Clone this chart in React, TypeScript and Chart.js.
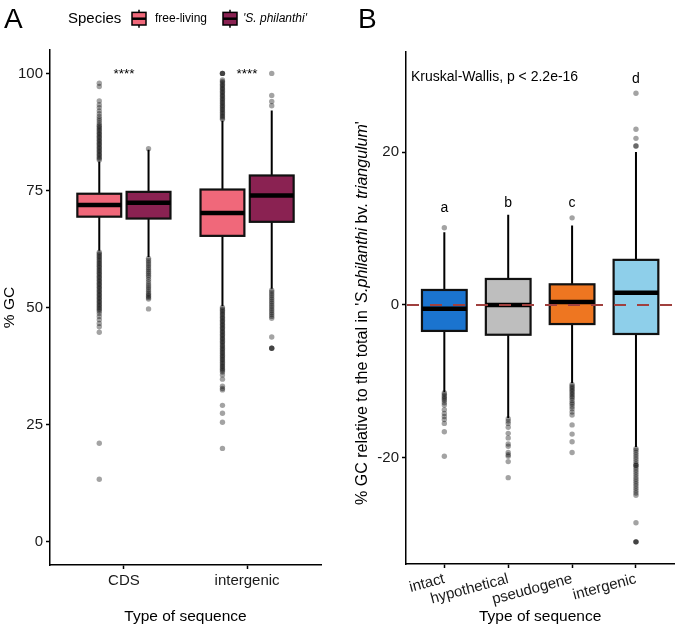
import React, { useEffect, useRef } from 'react';
import { Chart, registerables } from 'chart.js';
Chart.register(...registerables);

const FONT = '"Liberation Sans", Arial, Helvetica, sans-serif';

// ---------------- Panel A data ----------------
const seqTypesA = ['CDS', 'intergenic'];
const speciesA = ['free-living', "'S. philanthi'"];
const colorsA = ['#F0687A', '#8A2252'];
const yTicksA = [0, 25, 50, 75, 100];
const signifA = ['****', '****'];
// [lower whisker, Q1, median, Q3, upper whisker] per sequence type
const freeLivingStats = [
  [62.1, 69.4, 71.9, 74.3, 81.2],
  [50.3, 65.3, 70.2, 75.2, 89.9],
];
const philanthiStats = [
  [60.8, 69.0, 72.4, 74.7, 83.7],
  [54.0, 68.3, 73.9, 78.2, 92.1],
];
const freeLivingCdsOutliers = [
  81.5, 81.8, 82.1, 82.4, 82.7, 83.0, 83.3, 83.6, 83.9, 84.2, 84.5, 84.8, 85.1, 85.4, 85.7, 86.0,
  86.3, 86.6, 86.9, 87.2, 87.5, 87.8, 88.1, 88.4, 88.7, 89.0, 89.4, 89.9, 90.3, 90.8, 91.4, 92.0,
  92.7, 93.3, 94.1, 97.2, 97.9,
  61.8, 61.5, 61.2, 60.9, 60.6, 60.3, 60.0, 59.7, 59.4, 59.1, 58.8, 58.5, 58.2, 57.9, 57.6, 57.3,
  57.0, 56.7, 56.4, 56.1, 55.8, 55.5, 55.2, 54.9, 54.6, 54.3, 54.0, 53.7, 53.4, 53.1, 52.8, 52.5,
  52.2, 51.9, 51.6, 51.3, 51.0, 50.7, 50.4, 50.1, 49.8, 49.5, 49.2, 48.7, 48.1, 47.4, 46.6, 45.9,
  44.7, 21.0, 13.3,
];
const philanthiCdsOutliers = [
  83.9,
  60.5, 60.1, 59.7, 59.3, 58.9, 58.5, 58.1, 57.7, 57.3, 56.9, 56.5, 56.0, 55.5, 55.0, 54.6, 54.2,
  53.8, 53.4, 53.0, 52.7, 52.4, 52.1, 51.8, 49.7,
];
const freeLivingIntergenicOutliers = [
  90.2, 90.5, 90.8, 91.1, 91.4, 91.7, 92.0, 92.3, 92.6, 92.9, 93.2, 93.5, 93.8, 94.1, 94.4, 94.7,
  95.0, 95.3, 95.6, 95.9, 96.2, 96.5, 96.8, 97.1, 97.4, 97.7, 98.0, 98.3, 98.6, 100.0, 100.0, 100.0,
  50.0, 49.7, 49.4, 49.1, 48.8, 48.5, 48.2, 47.9, 47.6, 47.3, 47.0, 46.7, 46.4, 46.1, 45.8, 45.5,
  45.2, 44.9, 44.6, 44.3, 44.0, 43.7, 43.4, 43.1, 42.8, 42.5, 42.2, 41.9, 41.6, 41.3, 41.0, 40.7,
  40.4, 40.1, 39.8, 39.5, 39.2, 38.9, 38.6, 38.3, 38.0, 37.7, 37.4, 37.1, 36.8, 36.5, 36.2, 35.6,
  34.7, 33.2, 32.7, 32.4, 29.1, 27.4, 25.5, 19.9,
];
const philanthiIntergenicOutliers = [
  93.1, 94.0, 95.3, 100.0,
  53.7, 53.3, 52.9, 52.5, 52.1, 51.7, 51.3, 50.9, 50.5, 50.1, 49.7, 49.3, 48.9, 48.5, 48.1, 47.7,
  43.7, 41.3, 41.3, 41.3,
];
const freeLivingOutliers = [freeLivingCdsOutliers, freeLivingIntergenicOutliers];
const philanthiOutliers = [philanthiCdsOutliers, philanthiIntergenicOutliers];
const starValueA = 99;

// ---------------- Panel B data ----------------
const seqTypesB = ['intact', 'hypothetical', 'pseudogene', 'intergenic'];
const colorsB = ['#1B74CF', '#BEBEBE', '#EE7621', '#8ECFEA'];
const yTicksB = [-20, 0, 20];
const statsB = [
  [-11.4, -3.4, -0.5, 1.96, 9.5],
  [-14.8, -3.9, 0.0, 3.4, 11.8],
  [-10.2, -2.5, 0.4, 2.7, 10.4],
  [-18.6, -3.8, 1.6, 5.9, 20.0],
];
const outliersB = [
  [10.1, -11.5, -11.7, -11.9, -12.1, -12.3, -12.5, -12.8, -13.1, -13.7, -14.2, -14.6, -15.0, -15.5, -16.6, -19.8],
  [-14.9, -15.2, -15.5, -16.0, -16.8, -17.4, -18.2, -18.5, -19.3, -19.6, -19.8, -20.5, -22.6],
  [11.4, -10.4, -10.6, -10.8, -11.0, -11.2, -11.4, -11.6, -11.8, -12.0, -12.2, -12.5, -12.8, -13.0, -13.3,
    -13.6, -14.0, -14.4, -15.7, -16.9, -17.9, -19.3],
  [20.8, 20.8, 21.8, 23.0, 27.7,
    -18.8, -19.0, -19.3, -19.6, -19.9, -20.2, -20.5, -20.8, -21.0, -21.0, -21.3, -21.6, -21.9, -22.2,
    -22.5, -22.8, -23.1, -23.4, -23.7, -24.0, -24.3, -24.6, -24.9, -28.5, -31.0, -31.0, -31.0],
];
const groupLetters = ['a', 'b', 'c', 'd'];
const letterValueB = [12.2, 12.8, 12.8, 29.0];
const kruskalLabel = 'Kruskal-Wallis, p < 2.2e-16';
const kruskalValueB = 29.3;
const referenceLineB = 0;

// ---------------- styling ----------------
const DODGE_A = 0.2;
const HALF_A = 0.178;
const HALF_B = 0.35;
const OUTLIER_COLOR = 'rgba(0,0,0,0.36)';
const OUTLIER_RADIUS = 2.7;
const TEXT_COLOR = '#1a1a1a';

function drawBox(ctx: CanvasRenderingContext2D, xs: any, ys: any, center: number, half: number, stats: number[], fill: string) {
  const [lo, q1, med, q3, hi] = stats;
  const xl = xs.getPixelForValue(center - half);
  const xr = xs.getPixelForValue(center + half);
  const xc = xs.getPixelForValue(center);
  ctx.save();
  ctx.strokeStyle = '#000';
  ctx.lineCap = 'butt';
  ctx.lineWidth = 2;
  ctx.beginPath();
  ctx.moveTo(xc, ys.getPixelForValue(hi));
  ctx.lineTo(xc, ys.getPixelForValue(q3));
  ctx.moveTo(xc, ys.getPixelForValue(q1));
  ctx.lineTo(xc, ys.getPixelForValue(lo));
  ctx.stroke();
  const yt = ys.getPixelForValue(q3);
  const yb = ys.getPixelForValue(q1);
  ctx.fillStyle = fill;
  ctx.fillRect(xl, yt, xr - xl, yb - yt);
  ctx.lineWidth = 2.2;
  ctx.strokeStyle = '#111';
  ctx.strokeRect(xl, yt, xr - xl, yb - yt);
  ctx.lineWidth = 4.5;
  ctx.strokeStyle = '#000';
  ctx.beginPath();
  const ym = ys.getPixelForValue(med);
  ctx.moveTo(xl, ym);
  ctx.lineTo(xr, ym);
  ctx.stroke();
  ctx.restore();
}

function drawKey(ctx: CanvasRenderingContext2D, cx: number, cy: number, fill: string) {
  ctx.save();
  ctx.strokeStyle = '#000';
  ctx.lineWidth = 1.5;
  ctx.beginPath();
  ctx.moveTo(cx, cy - 9);
  ctx.lineTo(cx, cy + 9);
  ctx.stroke();
  ctx.fillStyle = fill;
  ctx.fillRect(cx - 7, cy - 6.3, 14, 12.6);
  ctx.strokeRect(cx - 7, cy - 6.3, 14, 12.6);
  ctx.lineWidth = 2.5;
  ctx.beginPath();
  ctx.moveTo(cx - 7, cy);
  ctx.lineTo(cx + 7, cy);
  ctx.stroke();
  ctx.restore();
}

function drawRotatedRich(ctx: CanvasRenderingContext2D, segs: [string, boolean][], cx: number, cy: number, size: number) {
  ctx.save();
  ctx.translate(cx, cy);
  ctx.rotate(-Math.PI / 2);
  ctx.textBaseline = 'middle';
  ctx.textAlign = 'left';
  ctx.fillStyle = '#000';
  let total = 0;
  for (const [t, it] of segs) {
    ctx.font = `${it ? 'italic ' : ''}${size}px ${FONT}`;
    total += ctx.measureText(t).width;
  }
  let x = -total / 2;
  for (const [t, it] of segs) {
    ctx.font = `${it ? 'italic ' : ''}${size}px ${FONT}`;
    ctx.fillText(t, x, 0);
    x += ctx.measureText(t).width;
  }
  ctx.restore();
}

function axisStyle() {
  return {
    border: { display: true, color: '#000', width: 1.5 },
    grid: { display: true, drawOnChartArea: false, drawTicks: true, tickLength: 4, tickWidth: 1.5, tickColor: '#000', color: '#000' },
  };
}

function makeConfigA(): any {
  const groups: { pos: number; stats: number[]; out: number[]; color: string }[] = [];
  seqTypesA.forEach((_, i) => {
    groups.push({ pos: i + 1 - DODGE_A, stats: freeLivingStats[i], out: freeLivingOutliers[i], color: colorsA[0] });
    groups.push({ pos: i + 1 + DODGE_A, stats: philanthiStats[i], out: philanthiOutliers[i], color: colorsA[1] });
  });
  const plugin = {
    id: 'boxesA',
    afterDatasetsDraw(chart: any) {
      const { ctx, scales } = chart;
      groups.forEach((g) => drawBox(ctx, scales.x, scales.y, g.pos, HALF_A, g.stats, g.color));
      ctx.save();
      ctx.fillStyle = '#000';
      ctx.textAlign = 'center';
      ctx.textBaseline = 'alphabetic';
      ctx.font = `13.5px ${FONT}`;
      seqTypesA.forEach((_, i) => ctx.fillText(signifA[i], scales.x.getPixelForValue(i + 1), scales.y.getPixelForValue(starValueA)));
      ctx.restore();
    },
    afterDraw(chart: any) {
      const { ctx, chartArea } = chart;
      ctx.save();
      ctx.fillStyle = '#000';
      ctx.textBaseline = 'alphabetic';
      ctx.textAlign = 'left';
      ctx.font = `28px ${FONT}`;
      ctx.fillText('A', 4, 28);
      ctx.font = `15px ${FONT}`;
      ctx.fillText('Species', 68, 23);
      drawKey(ctx, 139, 18.7, colorsA[0]);
      ctx.fillStyle = '#000';
      ctx.font = `12px ${FONT}`;
      ctx.fillText(speciesA[0], 155, 22);
      drawKey(ctx, 230, 18.7, colorsA[1]);
      ctx.fillStyle = '#000';
      ctx.font = `italic 12px ${FONT}`;
      ctx.fillText(speciesA[1], 243, 22);
      ctx.font = `15.5px ${FONT}`;
      ctx.textAlign = 'center';
      ctx.fillText('Type of sequence', (chartArea.left + chartArea.right) / 2, 621);
      ctx.restore();
      drawRotatedRich(ctx, [['% GC', false]], 10, (chartArea.top + chartArea.bottom) / 2, 15.5);
    },
  };
  return {
    type: 'scatter',
    data: {
      datasets: groups.map((g) => ({
        data: g.out.map((v) => ({ x: g.pos, y: v })),
        backgroundColor: OUTLIER_COLOR,
        borderWidth: 0,
        pointRadius: OUTLIER_RADIUS,
        pointHoverRadius: OUTLIER_RADIUS,
      })),
    },
    options: {
      animation: false,
      responsive: false,
      maintainAspectRatio: false,
      events: [],
      layout: { padding: { top: 50, right: 19, left: 0, bottom: 0 } },
      plugins: { legend: { display: false }, tooltip: { enabled: false } },
      scales: {
        x: {
          type: 'linear',
          min: 0.4,
          max: seqTypesA.length + 0.6,
          bounds: 'data',
          ...axisStyle(),
          afterBuildTicks: (s: any) => { s.ticks = seqTypesA.map((_, i) => ({ value: i + 1 })); },
          afterFit: (s: any) => { s.height = 63; },
          ticks: {
            autoSkip: false,
            maxRotation: 0,
            minRotation: 0,
            padding: 3,
            color: TEXT_COLOR,
            font: { family: FONT, size: 15 },
            callback: (v: any) => seqTypesA[Math.round(v) - 1],
          },
        },
        y: {
          type: 'linear',
          min: -5,
          max: 105,
          bounds: 'data',
          ...axisStyle(),
          afterBuildTicks: (s: any) => { s.ticks = yTicksA.map((v) => ({ value: v })); },
          afterFit: (s: any) => { s.width = 50; },
          ticks: { autoSkip: false, padding: 3, color: TEXT_COLOR, font: { family: FONT, size: 15 } },
        },
      },
    },
    plugins: [plugin],
  };
}

function makeConfigB(): any {
  const plugin = {
    id: 'boxesB',
    afterDatasetsDraw(chart: any) {
      const { ctx, scales, chartArea } = chart;
      seqTypesB.forEach((_, i) => drawBox(ctx, scales.x, scales.y, i + 1, HALF_B, statsB[i], colorsB[i]));
      ctx.save();
      ctx.strokeStyle = '#A0403E';
      ctx.lineWidth = 2;
      ctx.setLineDash([12, 11]);
      const y0 = scales.y.getPixelForValue(referenceLineB);
      ctx.beginPath();
      ctx.moveTo(chartArea.left + 1, y0);
      ctx.lineTo(chartArea.right, y0);
      ctx.stroke();
      ctx.setLineDash([]);
      ctx.fillStyle = '#000';
      ctx.textAlign = 'center';
      ctx.textBaseline = 'alphabetic';
      ctx.font = `14px ${FONT}`;
      seqTypesB.forEach((_, i) => ctx.fillText(groupLetters[i], scales.x.getPixelForValue(i + 1), scales.y.getPixelForValue(letterValueB[i])));
      ctx.textAlign = 'left';
      ctx.fillText(kruskalLabel, chartArea.left + 5, scales.y.getPixelForValue(kruskalValueB));
      ctx.restore();
    },
    afterDraw(chart: any) {
      const { ctx, chartArea } = chart;
      ctx.save();
      ctx.fillStyle = '#000';
      ctx.textBaseline = 'alphabetic';
      ctx.textAlign = 'left';
      ctx.font = `28px ${FONT}`;
      ctx.fillText('B', 18, 28);
      ctx.font = `15.5px ${FONT}`;
      ctx.textAlign = 'center';
      ctx.fillText('Type of sequence', (chartArea.left + chartArea.right) / 2, 621);
      ctx.restore();
      drawRotatedRich(
        ctx,
        [["% GC relative to the total in '", false], ['S.philanthi', true], [' bv. ', false], ['triangulum', true], ["'", false]],
        23,
        (chartArea.top + chartArea.bottom) / 2 + 5,
        16,
      );
    },
  };
  return {
    type: 'scatter',
    data: {
      datasets: seqTypesB.map((_, i) => ({
        data: outliersB[i].map((v) => ({ x: i + 1, y: v })),
        backgroundColor: OUTLIER_COLOR,
        borderWidth: 0,
        pointRadius: OUTLIER_RADIUS,
        pointHoverRadius: OUTLIER_RADIUS,
      })),
    },
    options: {
      animation: false,
      responsive: false,
      maintainAspectRatio: false,
      events: [],
      layout: { padding: { top: 52, right: 0, left: 0, bottom: 0 } },
      plugins: { legend: { display: false }, tooltip: { enabled: false } },
      scales: {
        x: {
          type: 'linear',
          min: 0.4,
          max: seqTypesB.length + 0.6,
          bounds: 'data',
          ...axisStyle(),
          afterBuildTicks: (s: any) => { s.ticks = seqTypesB.map((_, i) => ({ value: i + 1 })); },
          afterFit: (s: any) => { s.height = 64; },
          ticks: {
            autoSkip: false,
            maxRotation: 15,
            minRotation: 15,
            padding: 2,
            color: TEXT_COLOR,
            font: { family: FONT, size: 15 },
            callback: (v: any) => seqTypesB[Math.round(v) - 1],
          },
        },
        y: {
          type: 'linear',
          min: -33.9,
          max: 33.1,
          bounds: 'data',
          ...axisStyle(),
          afterBuildTicks: (s: any) => { s.ticks = yTicksB.map((v) => ({ value: v })); },
          afterFit: (s: any) => { s.width = 66; },
          ticks: { autoSkip: false, padding: 3, color: TEXT_COLOR, font: { family: FONT, size: 15 } },
        },
      },
    },
    plugins: [plugin],
  };
}

export default function App() {
  const refA = useRef<HTMLCanvasElement>(null);
  const refB = useRef<HTMLCanvasElement>(null);
  useEffect(() => {
    const a = new Chart(refA.current as HTMLCanvasElement, makeConfigA());
    const b = new Chart(refB.current as HTMLCanvasElement, makeConfigB());
    return () => {
      a.destroy();
      b.destroy();
    };
  }, []);
  return (
    <div style={{ position: 'absolute', left: 0, top: 0, width: 677, height: 628, background: '#fff', overflow: 'hidden' }}>
      <canvas ref={refA} width={340} height={628} style={{ position: 'absolute', left: 0, top: 0, width: 340, height: 628 }} />
      <canvas ref={refB} width={337} height={628} style={{ position: 'absolute', left: 340, top: 0, width: 337, height: 628 }} />
    </div>
  );
}
